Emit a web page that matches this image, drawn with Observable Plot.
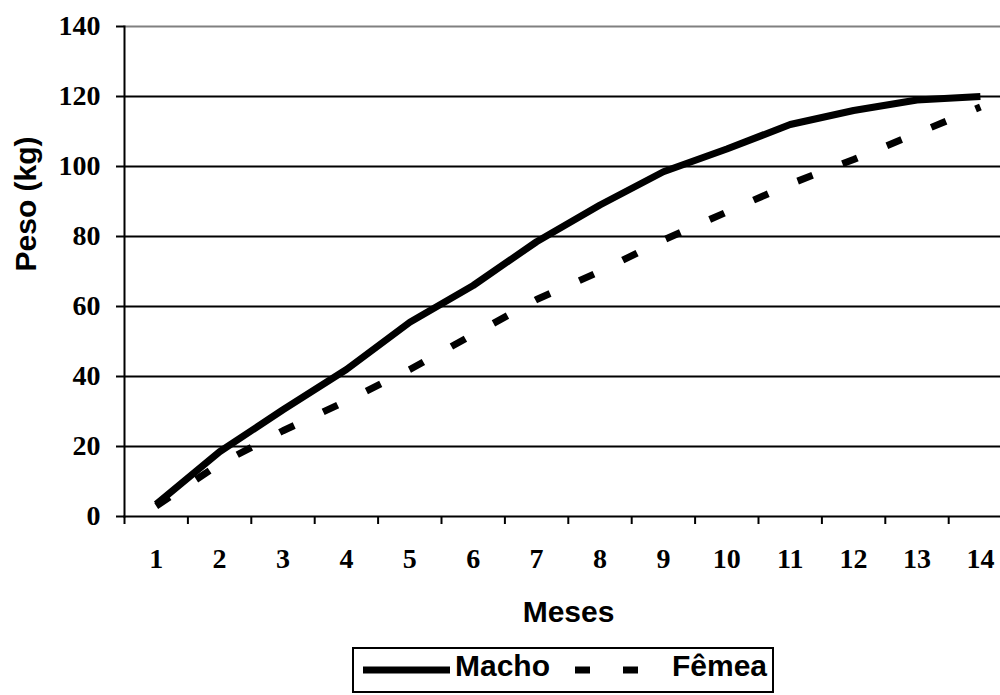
<!DOCTYPE html>
<html>
<head>
<meta charset="utf-8">
<script src="https://cdn.jsdelivr.net/npm/d3@7"></script>
<script src="https://cdn.jsdelivr.net/npm/@observablehq/plot@0.6"></script>
<style>
  html, body { margin: 0; padding: 0; background: #fff; }
  body { position: relative; width: 1000px; height: 695px; overflow: hidden; }
  #chart svg { display: block; }
  #legend { position: absolute; left: 352px; top: 647px; width: 422px; height: 46px;
            border: 2px solid #000; box-sizing: border-box; background: #fff; }
  #legend svg { position: absolute; left: 0; top: 0; }
  #legend span { position: absolute; top: 0; line-height: 42px;
                 font: bold 30px "Liberation Sans", Arial, sans-serif; color: #000; }
</style>
</head>
<body>
<div id="chart"></div>
<div id="legend">
  <svg width="418" height="42">
    <line x1="9" x2="96" y1="21" y2="21" stroke="#000" stroke-width="7"/>
    <line x1="221" x2="284" y1="21" y2="21" stroke="#000" stroke-width="7" stroke-dasharray="15,33"/>
  </svg>
  <span style="left:101px">Macho</span>
  <span style="left:318px">Fêmea</span>
</div>
<script>
const meses = [1, 2, 3, 4, 5, 6, 7, 8, 9, 10, 11, 12, 13, 14];
const macho = [3.5, 18.5, 30.5, 42, 55.5, 66, 78.5, 89, 98.5, 105, 112, 116, 119, 120];
const femea = [3, 15, 24.5, 33, 42, 52, 62, 70, 79, 87, 95, 102, 109.5, 117];
const yTicks = [0, 20, 40, 60, 80, 100, 120, 140];

const data = meses.map((m, i) => ({mes: m, macho: macho[i], femea: femea[i]}));
const boundaries = [0, ...meses].map(m => m + 0.5);
const yMax = d3.max(yTicks);

const serif = "Liberation Serif, Times New Roman, serif";
const sans = "Liberation Sans, Arial, sans-serif";

const chart = Plot.plot({
  width: 1000,
  height: 640,
  marginTop: 26,
  marginBottom: 124,
  marginLeft: 124,
  marginRight: 0,
  style: {background: "#fff", color: "#000"},
  x: {type: "linear", domain: [0.5, meses.length + 0.5], range: [124, 1011.6]},
  y: {domain: [0, yMax]},
  marks: [
    Plot.ruleY(yTicks.filter(v => v > 0 && v < yMax), {stroke: "#000", strokeWidth: 2}),
    Plot.ruleY([yMax], {stroke: "#808080", strokeWidth: 2}),
    Plot.frame({anchor: "left", stroke: "#000", strokeWidth: 2}),
    Plot.frame({anchor: "bottom", stroke: "#000", strokeWidth: 2}),
    Plot.axisY({ticks: yTicks, tickSize: 8, tickPadding: 16, strokeWidth: 2,
                fontSize: 28, fontWeight: "bold", fontFamily: serif, label: null}),
    Plot.axisX({ticks: meses, tickSize: 0, tickPadding: 32,
                fontSize: 28, fontWeight: "bold", fontFamily: serif, label: null}),
    Plot.axisX({ticks: boundaries, tickSize: 8, strokeWidth: 2, tickFormat: () => "", label: null}),
    Plot.line(data, {x: "mes", y: "femea", stroke: "#000", strokeWidth: 7,
                     strokeDasharray: "16,32", strokeLinecap: "butt", strokeLinejoin: "miter"}),
    Plot.line(data, {x: "mes", y: "macho", stroke: "#000", strokeWidth: 7,
                     strokeLinecap: "butt", strokeLinejoin: "miter"}),
    Plot.text(["Meses"], {text: d => d, frameAnchor: "bottom", dx: 6, dy: 96, lineAnchor: "middle",
                          fontSize: 30, fontWeight: "bold", fontFamily: sans}),
    Plot.text(["Peso (kg)"], {text: d => d, frameAnchor: "left", dx: -98, rotate: -90, lineAnchor: "middle",
                              fontSize: 30, fontWeight: "bold", fontFamily: sans})
  ]
});
document.getElementById("chart").appendChild(chart);
</script>
</body>
</html>
